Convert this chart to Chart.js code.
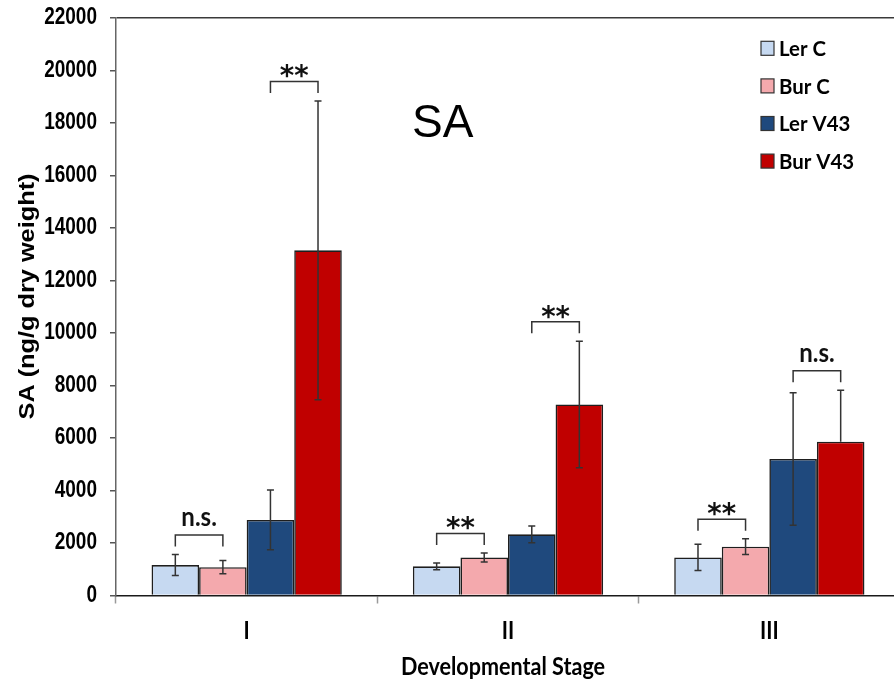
<!DOCTYPE html>
<html>
<head>
<meta charset="utf-8">
<script src="https://cdn.jsdelivr.net/npm/chart.js@4.4.1/dist/chart.umd.min.js"></script>
<style>
  html, body { margin: 0; padding: 0; background: #fff; overflow: hidden; }
  #wrap { width: 900px; height: 682px; }
</style>
</head>
<body>
<div id="wrap"><canvas id="chart" width="900" height="682"></canvas></div>
<script>
// Developmental stages on the x axis
const stages = ['I', 'II', 'III'];

// SA content (ng/g dry weight), mean and error per stage
const lerC = [1160, 1110, 1450];
const lerCErr = [400, 125, 500];

const burC = [1080, 1450, 1860];
const burCErr = [250, 170, 300];

const lerV43 = [2880, 2330, 5200];
const lerV43Err = [1140, 320, 2520];

const burV43 = [13150, 7280, 5860];
const burV43ErrUp = [5690, 2410, 1960];
const burV43ErrDown = [5690, 2410, 0];

// y axis range and tick step
const yMin = 0;
const yMax = 22000;
const yStep = 2000;

// pairwise comparisons drawn as brackets above the bars
const significance = [
  { stage: 0, left: 0, right: 1, mark: 'n.s.' },
  { stage: 0, left: 2, right: 3, mark: '**' },
  { stage: 1, left: 0, right: 1, mark: '**' },
  { stage: 1, left: 2, right: 3, mark: '**' },
  { stage: 2, left: 0, right: 1, mark: '**' },
  { stage: 2, left: 2, right: 3, mark: 'n.s.' }
];

const INK = '#333';

function stretchedText(ctx, text, x, y, sx, sy) {
  ctx.save();
  ctx.translate(x, y);
  ctx.scale(sx, sy);
  ctx.fillText(text, 0, 0);
  ctx.restore();
}

const datasets = [
  { label: 'Ler C', data: lerC, errUp: lerCErr, errDown: lerCErr, backgroundColor: '#C6D9F1' },
  { label: 'Bur C', data: burC, errUp: burCErr, errDown: burCErr, backgroundColor: '#F4A9AD' },
  { label: 'Ler V43', data: lerV43, errUp: lerV43Err, errDown: lerV43Err, backgroundColor: '#1F497D' },
  { label: 'Bur V43', data: burV43, errUp: burV43ErrUp, errDown: burV43ErrDown, backgroundColor: '#C00000' }
].map(d => Object.assign(d, {
  borderColor: '#1e1e1e',
  borderWidth: 1.6,
  categoryPercentage: 0.728,
  barPercentage: 1.0
}));

// error bars, significance brackets, labels and legend
const overlay = {
  id: 'overlay',
  afterDatasetsDraw(chart) {
    const ctx = chart.ctx;
    const y = chart.scales.y;
    const errTop = [];

    ctx.save();
    ctx.strokeStyle = INK;
    ctx.lineWidth = 1.5;
    chart.data.datasets.forEach((ds, i) => {
      errTop[i] = [];
      chart.getDatasetMeta(i).data.forEach((bar, j) => {
        const v = ds.data[j];
        const yHi = y.getPixelForValue(v + ds.errUp[j]);
        const yLo = y.getPixelForValue(v - ds.errDown[j]);
        errTop[i][j] = yHi;
        ctx.beginPath();
        ctx.moveTo(bar.x, yHi);
        ctx.lineTo(bar.x, yLo);
        ctx.moveTo(bar.x - 3.5, yHi);
        ctx.lineTo(bar.x + 3.5, yHi);
        if (ds.errDown[j] > 0) {
          ctx.moveTo(bar.x - 3.5, yLo);
          ctx.lineTo(bar.x + 3.5, yLo);
        }
        ctx.stroke();
      });
    });

    // brackets
    significance.forEach(s => {
      const a = chart.getDatasetMeta(s.left).data[s.stage];
      const b = chart.getDatasetMeta(s.right).data[s.stage];
      const legEnd = Math.min(errTop[s.left][s.stage], errTop[s.right][s.stage]) - 8;
      const top = legEnd - 11.5;
      ctx.strokeStyle = INK;
      ctx.lineWidth = 1.5;
      ctx.beginPath();
      ctx.moveTo(a.x, legEnd);
      ctx.lineTo(a.x, top);
      ctx.lineTo(b.x, top);
      ctx.lineTo(b.x, legEnd);
      ctx.stroke();

      const cx = (a.x + b.x) / 2;
      ctx.fillStyle = '#111';
      ctx.textAlign = 'center';
      ctx.textBaseline = 'alphabetic';
      if (s.mark === '**') {
        ctx.font = 'bold 29px "DejaVu Sans"';
        stretchedText(ctx, s.mark, cx, top + 4, 0.95, 1);
      } else {
        ctx.font = 'bold 24px Lato';
        stretchedText(ctx, s.mark, cx, top - 9, 1, 1.1);
      }
    });
    ctx.restore();
  },
  afterDraw(chart) {
    const ctx = chart.ctx;
    const x = chart.scales.x;
    const y = chart.scales.y;
    ctx.save();
    ctx.fillStyle = '#000';

    // y tick labels
    ctx.font = 'bold 19px "Liberation Sans", Arial, sans-serif';
    ctx.textAlign = 'right';
    ctx.textBaseline = 'middle';
    y.ticks.forEach((t, i) => {
      stretchedText(ctx, String(t.value), 97, y.getPixelForTick(i), 1, 1.22);
    });

    // stage labels
    ctx.font = 'bold 21px Lato';
    ctx.textAlign = 'center';
    stages.forEach((s, i) => {
      stretchedText(ctx, s, x.getPixelForValue(i), 631, 1, 1.2);
    });

    // x axis title
    ctx.font = 'bold 22px Lato';
    ctx.textBaseline = 'alphabetic';
    stretchedText(ctx, 'Developmental Stage', 503, 674.5, 0.98, 1.15);

    // y axis title
    ctx.save();
    ctx.translate(33.5, 296.5);
    ctx.rotate(-Math.PI / 2);
    ctx.scale(1.15, 1);
    ctx.font = 'bold 22px "Liberation Sans", Arial, sans-serif';
    ctx.textAlign = 'center';
    ctx.textBaseline = 'alphabetic';
    ctx.fillText('SA (ng/g dry weight)', 0, 0);
    ctx.restore();

    // panel title
    ctx.font = '46px "Liberation Sans", Arial, sans-serif';
    ctx.textAlign = 'left';
    ctx.textBaseline = 'alphabetic';
    ctx.fillText('SA', 412, 137);

    // legend
    ctx.font = 'bold 20px Lato';
    ctx.textBaseline = 'middle';
    chart.data.datasets.forEach((ds, i) => {
      const cy = 48.3 + i * 37.6;
      ctx.fillStyle = ds.backgroundColor;
      ctx.fillRect(761, cy - 7, 13, 14);
      ctx.strokeStyle = '#333';
      ctx.lineWidth = 1.2;
      ctx.strokeRect(761, cy - 7, 13, 14);
      ctx.fillStyle = '#000';
      stretchedText(ctx, ds.label, 779, cy + 1, 1.02, 1.05);
    });
    ctx.restore();
  }
};

new Chart(document.getElementById('chart'), {
  type: 'bar',
  data: { labels: stages, datasets },
  options: {
    responsive: false,
    animation: false,
    devicePixelRatio: 1,
    layout: { padding: { top: 18, left: 0, right: 0, bottom: 0 } },
    plugins: { legend: { display: false }, tooltip: { enabled: false } },
    scales: {
      x: {
        offset: true,
        ticks: { display: false },
        grid: {
          offset: true,
          drawOnChartArea: false,
          drawTicks: true,
          tickLength: 8,
          tickColor: '#9a9a9a',
          tickWidth: 1.5
        },
        border: { display: true, color: '#1a1a1a', width: 1.5 },
        afterFit(scale) { scale.height = 86.5; }
      },
      y: {
        min: yMin,
        max: yMax,
        ticks: { display: false, stepSize: yStep },
        grid: {
          drawOnChartArea: true,
          color: c => (c.tick && c.tick.value === yMax ? '#3a3a3a' : 'rgba(0,0,0,0)'),
          lineWidth: 1.5,
          drawTicks: true,
          tickLength: 6,
          tickColor: '#555',
          tickWidth: 1.5
        },
        border: { display: true, color: '#666', width: 1.5 },
        afterFit(scale) { scale.width = 116; }
      }
    }
  },
  plugins: [overlay]
});
</script>
</body>
</html>
